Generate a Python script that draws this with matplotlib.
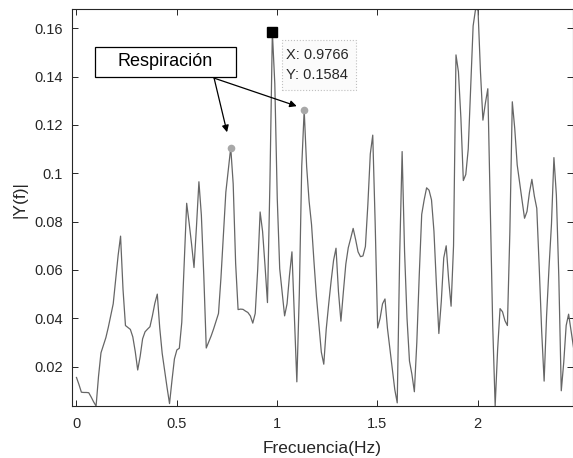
import numpy as np
import matplotlib
matplotlib.use('Agg')
import matplotlib.pyplot as plt
from matplotlib.patches import Rectangle

# ---------------- data ----------------
df = 25.0 / 2048.0  # frequency resolution (Hz)
amp = [
    0.0155, 0.0126, 0.0094, 0.0093, 0.0093, 0.0092, 0.0074, 0.0054, 0.0037, 0.0160,
    0.0257, 0.0288, 0.0320, 0.0363, 0.0412, 0.0460, 0.0560, 0.0660, 0.0740, 0.0520,
    0.0370, 0.0362, 0.0354, 0.0323, 0.0262, 0.0186, 0.0242, 0.0315, 0.0344, 0.0355,
    0.0365, 0.0410, 0.0462, 0.0500, 0.0360, 0.0255, 0.0184, 0.0113, 0.0047, 0.0143,
    0.0232, 0.0269, 0.0276, 0.0383, 0.0626, 0.0876, 0.0795, 0.0707, 0.0610, 0.0779,
    0.0965, 0.0827, 0.0575, 0.0277, 0.0302, 0.0327, 0.0356, 0.0388, 0.0420, 0.0567,
    0.0746, 0.0922, 0.1014, 0.1106, 0.0956, 0.0627, 0.0436, 0.0438, 0.0437, 0.0430,
    0.0424, 0.0410, 0.0380, 0.0420, 0.0600, 0.0840, 0.0760, 0.0618, 0.0465, 0.0960,
    0.1584, 0.1370, 0.0896, 0.0605, 0.0508, 0.0410, 0.0460, 0.0578, 0.0675, 0.0400,
    0.0137, 0.0500, 0.1030, 0.1262, 0.1028, 0.0885, 0.0788, 0.0634, 0.0490, 0.0374,
    0.0260, 0.0210, 0.0355, 0.0458, 0.0554, 0.0640, 0.0690, 0.0510, 0.0388, 0.0509,
    0.0624, 0.0692, 0.0731, 0.0772, 0.0726, 0.0675, 0.0655, 0.0658, 0.0697, 0.0870,
    0.1080, 0.1158, 0.0790, 0.0360, 0.0400, 0.0460, 0.0480, 0.0359, 0.0275, 0.0190,
    0.0105, 0.0050, 0.0660, 0.1090, 0.0675, 0.0400, 0.0223, 0.0168, 0.0096, 0.0300,
    0.0580, 0.0830, 0.0890, 0.0940, 0.0930, 0.0890, 0.0760, 0.0540, 0.0337, 0.0470,
    0.0650, 0.0700, 0.0560, 0.0450, 0.0700, 0.1490, 0.1420, 0.1230, 0.0970, 0.0995,
    0.1100, 0.1350, 0.1610, 0.1680, 0.1675, 0.1420, 0.1220, 0.1290, 0.1350, 0.0860,
    0.0370, 0.0037, 0.0270, 0.0440, 0.0427, 0.0390, 0.0370, 0.0755, 0.1296, 0.1185,
    0.1035, 0.0960, 0.0887, 0.0814, 0.0842, 0.0920, 0.0975, 0.0906, 0.0855, 0.0610,
    0.0346, 0.0140, 0.0410, 0.0610, 0.0790, 0.1065, 0.0910, 0.0570, 0.0100, 0.0216,
    0.0370, 0.0417, 0.0350, 0.0280,
]
freq = np.arange(len(amp)) * df

tip_index = 80                 # data cursor  X: 0.9766  Y: 0.1584
resp_indices = [63, 93]        # "Respiración" peaks
xticks = [0, 0.5, 1, 1.5, 2]
xticklabels = ['0', '0.5', '1', '1.5', '2']
yticks = [0.02, 0.04, 0.06, 0.08, 0.10, 0.12, 0.14, 0.16]
yticklabels = ['0.02', '0.04', '0.06', '0.08', '0.1', '0.12', '0.14', '0.16']
xlabel = 'Frecuencia(Hz)'
ylabel = '|Y(f)|'
note = 'Respiración'

# ---------------- figure ----------------
plt.rcParams['font.family'] = ['Liberation Sans', 'DejaVu Sans']
W, H = 573, 458
fig = plt.figure(figsize=(W / 100, H / 100), dpi=100)
ax = fig.add_axes([72 / W, 1 - 406 / H, (572.5 - 72) / W, (406 - 9) / H])

ax.plot(freq, amp, color='#666666', lw=0.9)
ax.set_xlim(-0.0224, 2.473)
ax.set_ylim(0.0037, 0.168)

ax.set_xticks(xticks)
ax.set_xticklabels(xticklabels)
ax.set_yticks(yticks)
ax.set_yticklabels(yticklabels)
ink = '#262626'
ax.tick_params(direction='in', top=True, right=True, length=4, width=0.7,
               colors=ink, labelsize=10.5)
ax.tick_params(axis='x', pad=8)
ax.tick_params(axis='y', pad=6.5)
for s in ax.spines.values():
    s.set_color(ink)
    s.set_linewidth(0.8)

ax.set_xlabel(xlabel, fontsize=12.5, color=ink, va='center')
ax.xaxis.set_label_coords(0.5, (406 - 448) / 397)
ax.set_ylabel(ylabel, fontsize=12.5, color=ink, va='center', ha='center')
ax.yaxis.set_label_coords(-0.104, 0.52)

# respiration peaks (gray dots)
for i in resp_indices:
    ax.plot(freq[i], amp[i], 'o', color='#a8a8a8', ms=5.5, mec='none', zorder=4)

# data cursor
ax.plot(freq[tip_index], amp[tip_index], 's', color='black', ms=7.5, zorder=5)
ax.add_patch(Rectangle((1.0234, 0.1345), 0.3706, 0.0207, facecolor='#fbfbfb',
                       edgecolor='#c0c0c0', ls=':', lw=0.8, zorder=6))
ax.text(1.0449, 0.1489, 'X: %.4f' % freq[tip_index], fontsize=10.5, color=ink,
        va='center', ha='left', zorder=7)
ax.text(1.0449, 0.1406, 'Y: %.4f' % amp[tip_index], fontsize=10.5, color=ink,
        va='center', ha='left', zorder=7)

# annotation box + arrows
ax.add_patch(Rectangle((0.092, 0.1398), 0.703, 0.0125, facecolor='white',
                       edgecolor='black', lw=0.9, zorder=6))
ax.text(0.444, 0.1461, note, fontsize=13, color='black', ha='center',
        va='center', zorder=7)
start = (0.686, 0.1394)
for tip in [(0.7506, 0.1170), (1.098, 0.1278)]:
    ax.annotate('', xy=tip, xytext=start,
                arrowprops=dict(arrowstyle='-|>', color='black', lw=0.9,
                                mutation_scale=10, shrinkA=0, shrinkB=0),
                zorder=7)

fig.savefig('out.png', dpi=100)
